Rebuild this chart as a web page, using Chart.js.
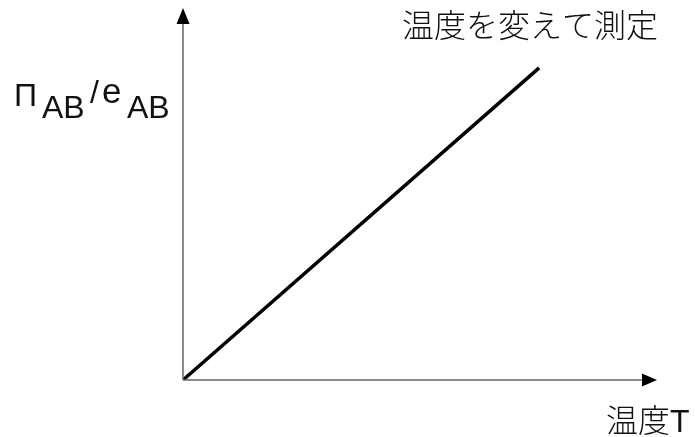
<!DOCTYPE html>
<html lang="ja">
<head>
    <meta charset="UTF-8">
    <title>温度を変えて測定</title>
    <style>
        body {
            margin: 0;
            padding: 0;
            background-color: #ffffff;
        }

        #chart {
            display: block;
        }
    </style>
</head>
<body>
    <canvas id="chart" width="695" height="437"></canvas>

    <script src="https://cdn.jsdelivr.net/npm/chart.js"></script>
    <script>
        // data (arbitrary units, straight line through origin)
        var temperature = [0, 1];
        var ratio = [0, 1];
        var axisMax = { x: 1.331, y: 1.192 };

        var titleText = '温度を変えて測定';
        var xLabel = '温度T';
        var yLabelParts = ['Π', 'AB', '/', 'e', 'AB'];

        var font = '"Liberation Sans", "Noto Sans CJK JP", sans-serif';

        // axes with arrow heads + texts
        const decorations = {
            id: 'decorations',
            afterDatasetsDraw(chart) {
                const ctx = chart.ctx;
                const xs = chart.scales.x;
                const ys = chart.scales.y;
                const x0 = xs.getPixelForValue(0);
                const y0 = ys.getPixelForValue(0);
                const xEnd = xs.getPixelForValue(axisMax.x);
                const yEnd = ys.getPixelForValue(axisMax.y);

                ctx.save();
                ctx.strokeStyle = '#666666';
                ctx.lineWidth = 1.5;
                ctx.beginPath();
                ctx.moveTo(x0, y0);
                ctx.lineTo(x0, yEnd + 14);
                ctx.moveTo(x0, y0);
                ctx.lineTo(xEnd - 14, y0);
                ctx.stroke();

                ctx.fillStyle = '#000000';
                ctx.beginPath();
                ctx.moveTo(x0, yEnd);
                ctx.lineTo(x0 - 6.5, yEnd + 16);
                ctx.lineTo(x0 + 6.5, yEnd + 16);
                ctx.closePath();
                ctx.fill();

                ctx.beginPath();
                ctx.moveTo(xEnd, y0);
                ctx.lineTo(xEnd - 15, y0 - 6.5);
                ctx.lineTo(xEnd - 15, y0 + 6.5);
                ctx.closePath();
                ctx.fill();

                ctx.fillStyle = '#111111';
                ctx.font = '300 32px ' + font;
                ctx.textBaseline = 'alphabetic';
                ctx.textAlign = 'center';
                ctx.fillText(titleText, 530, 37);

                ctx.textAlign = 'left';
                ctx.fillText(xLabel, 606, 432);

                ctx.fillText(yLabelParts[0], 14, 106);
                ctx.fillText(yLabelParts[1], 42, 118);
                ctx.fillText(yLabelParts[2], 90, 103);
                ctx.font = '300 35px ' + font;
                ctx.fillText(yLabelParts[3], 102, 103);
                ctx.font = '300 32px ' + font;
                ctx.fillText(yLabelParts[4], 127, 118);
                ctx.restore();
            }
        };

        const chart = new Chart(document.getElementById('chart').getContext('2d'), {
            type: 'scatter',
            data: {
                datasets: [{
                    data: temperature.map((t, i) => ({ x: t, y: ratio[i] })),
                    showLine: true,
                    borderColor: '#000000',
                    borderWidth: 3.5,
                    pointRadius: 0,
                    borderCapStyle: 'butt'
                }]
            },
            options: {
                responsive: false,
                animation: false,
                layout: {
                    padding: { left: 183, right: 38, top: 8, bottom: 57 }
                },
                scales: {
                    x: { type: 'linear', min: 0, max: axisMax.x, display: false },
                    y: { type: 'linear', min: 0, max: axisMax.y, display: false }
                },
                plugins: {
                    legend: { display: false },
                    tooltip: { enabled: false }
                }
            },
            plugins: [decorations]
        });
    </script>
</body>
</html>
